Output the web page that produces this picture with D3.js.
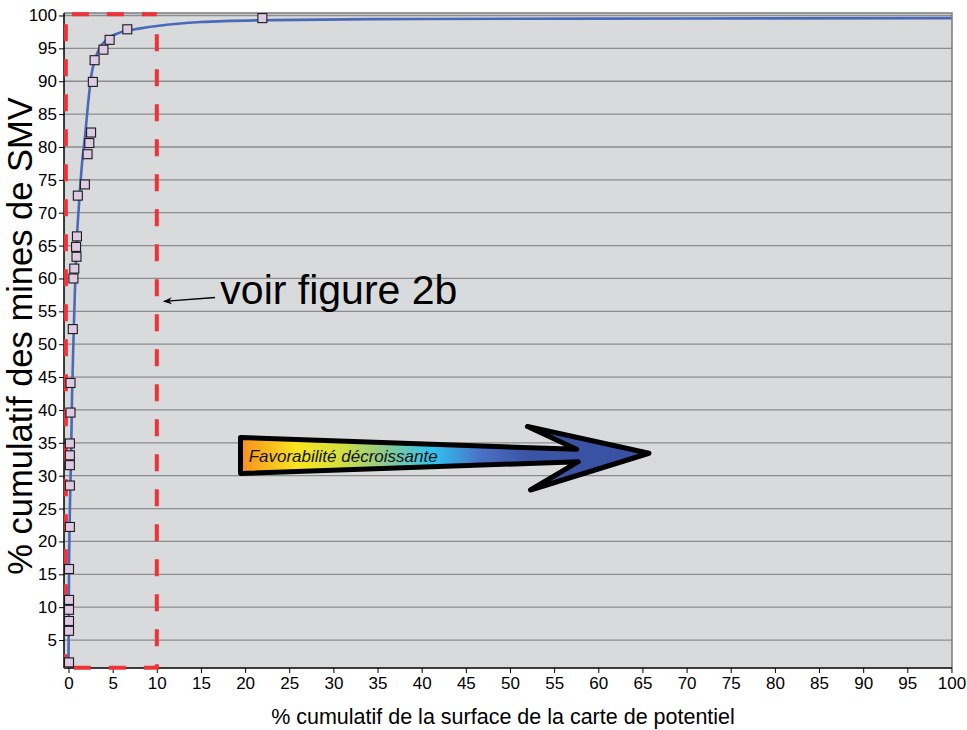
<!DOCTYPE html>
<html><head><meta charset="utf-8">
<script src="https://cdn.jsdelivr.net/npm/d3@7/dist/d3.min.js"></script>
<style>body{margin:0;background:#fff}svg{display:block;font-family:"Liberation Sans",Arial,sans-serif}</style>
</head><body><svg id="c" width="967" height="730"></svg>
<script>
// ---- data ----
const xTicks = d3.range(0, 101, 5);
const yTicks = d3.range(5, 101, 5);
const minesX = [0,0,0,0,0,0,0.1,0.1,0.1,0.1,0.1,0.17,0.17,0.43,0.5,0.6,0.85,0.8,0.9,1.0,1.8,2.1,2.3,2.5,2.7,2.9,3.9,4.6,6.6,21.9];
const minesY = [1.6,6.4,7.9,9.6,11.1,15.8,22.2,28.5,31.6,33.1,34.9,39.6,44.1,52.3,60.0,61.5,63.3,64.8,66.4,72.6,74.3,78.9,80.6,82.2,89.9,93.2,94.8,96.3,97.9,99.6];
const fitX = [0,0.03,0.06,0.12,0.2,0.28,0.4,0.55,0.7,0.85,1.0,1.2,1.5,1.9,2.25,2.6,3.0,3.5,4.3,5.8,8,10,15,23,35,50,70,100];
const fitY = [1.5,8,15.6,22,28,32,42,50,57,63,67.3,71.5,77,82,87,91,93.3,95,96.3,97.4,98,98.4,99,99.3,99.45,99.5,99.55,99.6];
const xTitle = "% cumulatif de la surface de la carte de potentiel";
const yTitle = "% cumulatif des mines de SMV";
const noteText = "voir figure 2b";
const arrowText = "Favorabilité décroissante";
// annotation geometry in data units
const zoomBox = {x0: -0.3, x1: 10, y0: 0.8, y1: 100.2};
const bigArrowX = [19.48, 57.55, 51.98, 65.74, 52.32, 57.73, 19.48];
const bigArrowY = [35.81, 34.01, 37.48, 33.41, 27.82, 32.13, 30.33];

// ---- layout ----
const L = 64, R = 952, T = 13, B = 668;
const svg = d3.select("#c");
const x = d3.scaleLinear().domain([-0.51, 100.06]).range([L, R]);
const y = d3.scaleLinear().domain([0.745, 100.38]).range([B, T]);

const defs = svg.append("defs");
const g = defs.append("linearGradient").attr("id","fav").attr("x1","0%").attr("x2","100%");
[[0,"#f7901e"],[0.14,"#f9e51f"],[0.24,"#d7e03a"],[0.34,"#95cc84"],[0.47,"#2fc3f1"],[0.59,"#4a70c4"],[0.7,"#3b54a6"],[1,"#3a51a3"]]
  .forEach(([o,c]) => g.append("stop").attr("offset", o).attr("stop-color", c));
defs.append("marker").attr("id","ah").attr("viewBox","0 0 10 10").attr("refX",9).attr("refY",5)
  .attr("markerWidth",9).attr("markerHeight",9).attr("orient","auto-start-reverse").attr("markerUnits","userSpaceOnUse")
  .append("path").attr("d","M0,1 L10,5 L0,9 L3,5 Z").attr("fill","#000");

svg.append("rect").attr("x",L).attr("y",T).attr("width",R-L).attr("height",B-T).attr("fill","#d9dadc");

// grid
svg.append("g").selectAll("line").data(yTicks).join("line")
  .attr("x1",L).attr("x2",R).attr("y1",d=>y(d)).attr("y2",d=>y(d))
  .attr("stroke","#8c8c8c").attr("stroke-width",1.3);

// border right/top
svg.append("path").attr("d",`M${L},${T}H${R}V${B}`).attr("fill","none").attr("stroke","#7c7c7c").attr("stroke-width",1.5);

// axes
const xAxis = svg.append("g").attr("transform",`translate(0,${B})`)
  .call(d3.axisBottom(x).tickValues(xTicks).tickSize(5).tickPadding(4).tickSizeOuter(0));
const yAxis = svg.append("g").attr("transform",`translate(${L},0)`)
  .call(d3.axisLeft(y).tickValues(yTicks).tickSize(5).tickPadding(2).tickSizeOuter(0));
[xAxis,yAxis].forEach(a=>{
  a.select(".domain").attr("stroke","#000").attr("stroke-width",1.5);
  a.selectAll(".tick line").attr("stroke","#000").attr("stroke-width",1);
  a.selectAll(".tick text").attr("font-size",17).attr("fill","#000").attr("font-family","Liberation Sans, Arial, sans-serif");
});
xAxis.select(".domain").attr("d",`M${L},0H${R}`);
yAxis.select(".domain").attr("d",`M0,${B}V${T}`);

// zoom box (red dashed)
const zb = svg.append("g").attr("fill","none").attr("stroke","#ef3138").attr("stroke-width",4).attr("stroke-dasharray","17,18");
zb.append("line").attr("x1",x(zoomBox.x0)+6).attr("x2",x(zoomBox.x1)).attr("y1",y(zoomBox.y1)).attr("y2",y(zoomBox.y1));
zb.append("line").attr("x1",x(zoomBox.x0)).attr("x2",x(zoomBox.x0)).attr("y1",y(zoomBox.y1)+10).attr("y2",y(zoomBox.y0));
zb.append("line").attr("x1",x(zoomBox.x1)).attr("x2",x(zoomBox.x1)).attr("y1",y(zoomBox.y1)+20).attr("y2",y(zoomBox.y0));
zb.append("line").attr("x1",x(zoomBox.x0)+8).attr("x2",x(zoomBox.x1)+2).attr("y1",y(zoomBox.y0)).attr("y2",y(zoomBox.y0));

// fitted curve
svg.append("path").datum(fitX.map((v,i)=>[v,fitY[i]]))
  .attr("d", d3.line().x(d=>x(d[0])).y(d=>y(d[1])).curve(d3.curveMonotoneX))
  .attr("fill","none").attr("stroke","#4a69b9").attr("stroke-width",2.6);

// squares
const s = 9;
svg.append("g").selectAll("rect").data(minesX.map((v,i)=>[v,minesY[i]])).join("rect")
  .attr("x",d=>x(d[0])-s/2+0.5).attr("y",d=>y(d[1])-s/2).attr("width",s).attr("height",s)
  .attr("fill","#dccbe2").attr("stroke","#1a1a1a").attr("stroke-width",1.1);

// big arrow
svg.append("path").attr("d", "M" + bigArrowX.map((v,i)=>`${x(v)},${y(bigArrowY[i])}`).join("L") + "Z")
  .attr("fill","url(#fav)").attr("stroke","#000").attr("stroke-width",5).attr("stroke-linejoin","round");
svg.append("text").attr("x",x(20.4)).attr("y",y(32.08)).attr("font-size",17).attr("font-style","italic").attr("fill","#111").text(arrowText);

// note
svg.append("text").attr("x",x(17.2)).attr("y",y(56.1)).attr("font-size",41).attr("fill","#000").text(noteText);
svg.append("line").attr("x1",x(16.6)).attr("y1",y(57.1)).attr("x2",x(10.8)).attr("y2",y(56.5))
  .attr("stroke","#000").attr("stroke-width",1.3).attr("marker-end","url(#ah)");

// titles
svg.append("text").attr("x",503).attr("y",724).attr("text-anchor","middle").attr("font-size",21.5).attr("fill","#000").text(xTitle);
svg.append("text").attr("transform","translate(32,336) rotate(-90)").attr("text-anchor","middle").attr("font-size",34.5).attr("fill","#000").text(yTitle);
</script></body></html>
